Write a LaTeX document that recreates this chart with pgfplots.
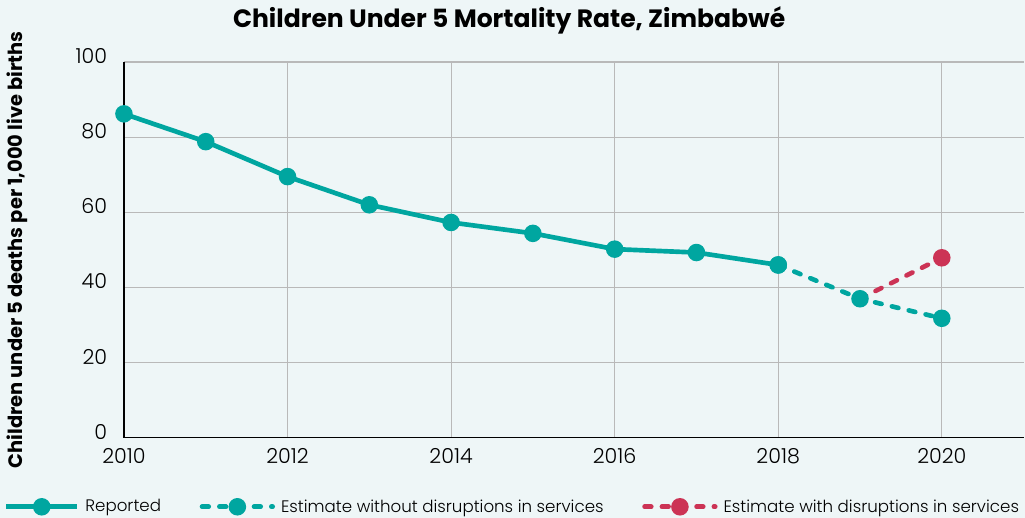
\documentclass[border=0pt]{standalone}
\usepackage{pgfplots}
\pgfplotsset{compat=1.18}
\usepackage{fontspec}
\setmainfont{Poppins}
\newfontfamily\lightfont{Poppins}[UprightFont={* Light}]
\definecolor{bg}{RGB}{238,246,247}
\definecolor{tealc}{RGB}{0,166,160}
\definecolor{redc}{RGB}{204,51,85}
\definecolor{gridc}{RGB}{185,185,185}
\begin{document}
\begin{tikzpicture}
\fill[bg] (0,0) rectangle (768.75pt,388.5pt);
\node[font=\bfseries\fontsize{18.8}{22}\selectfont] at (382pt,373.5pt) {Children Under 5 Mortality Rate, Zimbabwé};
\begin{axis}[
  at={(93pt,60pt)}, anchor=south west,
  scale only axis, width=675pt, height=282pt,
  xmin=2010, xmax=2021, ymin=0, ymax=100,
  xtick={2010,2012,...,2020}, ytick={0,20,...,100},
  xticklabel style={/pgf/number format/1000 sep={}},
  /pgf/number format/assume math mode=true,
  axis x line=bottom, axis y line=left,
  axis line style={-, black, line width=1pt},
  grid=major, major grid style={gridc, line width=0.8pt},
  tick style={draw=none},
  ticklabel style={font=\lightfont\fontsize{15.5}{18}\selectfont},
  yticklabel style={xshift=-7pt, yshift=4.5pt},
  xticklabel style={yshift=-2pt},
  ylabel={Children under 5 deaths per 1,000 live births},
  ylabel style={font=\bfseries\fontsize{14.6}{17}\selectfont, at={(axis description cs:-0.119,0.5)}, anchor=center},
  legend columns=3,
  legend cell align=left,
  legend style={draw=none, fill=none, inner sep=0pt, at={(-0.1335,-0.1835)}, anchor=west,
    font=\lightfont\fontsize{12.5}{15}\selectfont,
    nodes={inner xsep=4.5pt},
    /tikz/every even column/.append style={column sep=24.5pt}},
  legend image code/.code={\draw[mark repeat=2,mark phase=2,#1] plot coordinates {(0pt,0pt)(26.5pt,0pt)(53pt,0pt)};},
]
\addlegendimage{tealc, line width=3.5pt, mark=*, mark size=4.8pt, mark options={solid}}
\addlegendentry{Reported}
\addlegendimage{tealc, line width=3.5pt, line cap=round, dash pattern=on 5pt off 8pt, mark=*, mark size=4.8pt, mark options={solid}}
\addlegendentry{Estimate without disruptions in services}
\addlegendimage{redc, line width=3.5pt, line cap=round, dash pattern=on 5pt off 8pt, mark=*, mark size=4.8pt, mark options={solid}}
\addlegendentry{Estimate with disruptions in services}

\addplot[forget plot, redc, line width=3.5pt, line cap=round, dash pattern=on 5pt off 8pt, mark=*, mark size=4.8pt, mark options={solid}, mark indices={2}]
  coordinates {(2019,37.0)(2020,47.9)};
\addplot[forget plot, tealc, line width=3.5pt, line cap=round, dash pattern=on 5pt off 8pt, mark=*, mark size=4.8pt, mark options={solid}]
  coordinates {(2018,46.0)(2019,37.0)(2020,31.8)};
\addplot[forget plot, tealc, line width=3.5pt, mark=*, mark size=4.8pt]
  coordinates {(2010,86.2)(2011,78.8)(2012,69.5)(2013,62.0)(2014,57.3)(2015,54.4)(2016,50.2)(2017,49.3)(2018,46.0)};
\end{axis}
\end{tikzpicture}
\end{document}
